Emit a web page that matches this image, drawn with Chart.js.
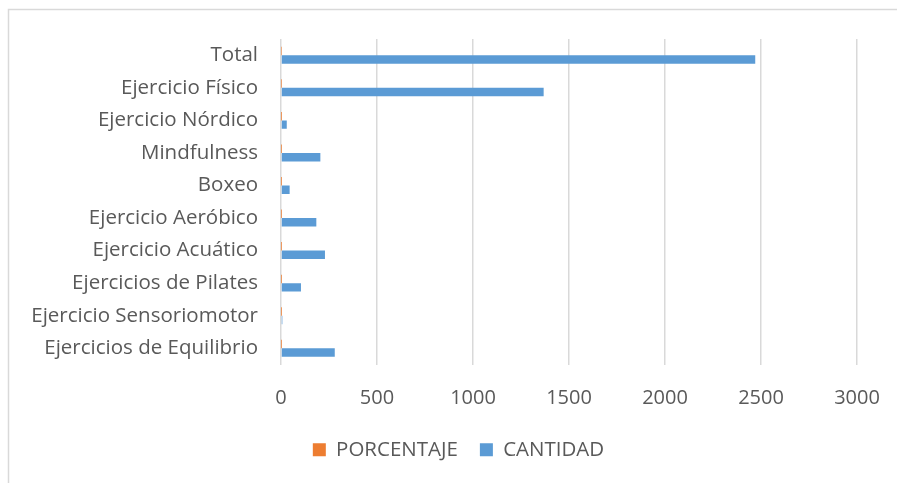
<!DOCTYPE html>
<html>
<head>
<meta charset="utf-8">
<script src="https://cdn.jsdelivr.net/npm/chart.js@4.4.0/dist/chart.umd.min.js"></script>
<style>
  html, body { margin: 0; padding: 0; background: #ffffff; }
  #wrap { width: 897px; height: 483px; position: relative; }
</style>
</head>
<body>
<div id="wrap"><canvas id="c" width="897" height="483"></canvas></div>
<script>
const categories = [
  "Total",
  "Ejercicio Físico",
  "Ejercicio Nórdico",
  "Mindfulness",
  "Boxeo",
  "Ejercicio Aeróbico",
  "Ejercicio Acuático",
  "Ejercicios de Pilates",
  "Ejercicio Sensoriomotor",
  "Ejercicios de Equilibrio"
];
const cantidad = [2470, 1368, 30, 205, 45, 184, 229, 104, 7, 280];
const porcentaje = [1, 0.55, 0.01, 0.08, 0.02, 0.07, 0.09, 0.04, 0.003, 0.11];
const xTicks = [0, 500, 1000, 1500, 2000, 2500, 3000];

const FONT = "'Open Sans', Lato, sans-serif";
const TEXT = "#595959";
const GRID = "#d9d9d9";

const borderPlugin = {
  id: 'frame',
  afterLayout(chart) {
    const lg = chart.legend;
    if (lg) { lg.left += 30; lg.right += 30; lg.top += 1; lg.bottom += 1; }
  },
  beforeDraw(chart) {
    const ctx = chart.ctx;
    ctx.save();
    ctx.fillStyle = '#ffffff';
    ctx.fillRect(0, 0, chart.width, chart.height);
    ctx.strokeStyle = GRID;
    ctx.lineWidth = 1.5;
    ctx.beginPath();
    ctx.moveTo(8.5, chart.height);
    ctx.lineTo(8.5, 9.5);
    ctx.lineTo(chart.width, 9.5);
    ctx.stroke();
    ctx.restore();
  }
};

new Chart(document.getElementById('c'), {
  type: 'bar',
  data: {
    labels: categories,
    datasets: [
      { label: 'PORCENTAJE', data: porcentaje, backgroundColor: '#ED7D31', borderWidth: 0 },
      { label: 'CANTIDAD', data: cantidad, backgroundColor: '#5B9BD5', borderWidth: 0 }
    ]
  },
  options: {
    indexAxis: 'y',
    responsive: false,
    animation: false,
    devicePixelRatio: 1,
    categoryPercentage: 0.52,
    barPercentage: 1,
    layout: { padding: { top: 39, right: 40, left: 0, bottom: 14 } },
    plugins: {
      legend: {
        position: 'bottom',
        labels: {
          font: { family: FONT, size: 20.5 },
          color: TEXT,
          boxWidth: 13,
          boxHeight: 13,
          padding: 22
        }
      },
      tooltip: { enabled: false }
    },
    scales: {
      x: {
        min: 0,
        max: 3000,
        afterBuildTicks(scale) { scale.ticks = xTicks.map(v => ({ value: v })); },
        afterFit(scale) { scale.height = 52; scale.paddingRight = 0; scale.paddingLeft = 0; },
        grid: { color: GRID, lineWidth: 1.5, drawTicks: false },
        border: { display: false },
        ticks: {
          font: { family: FONT, size: 20 },
          color: TEXT,
          padding: 22,
          callback: (v) => String(v)
        }
      },
      y: {
        afterFit(scale) { scale.width = 281; },
        grid: { display: false, drawTicks: false },
        border: { display: false },
        ticks: {
          font: { family: FONT, size: 20.5 },
          color: TEXT,
          padding: 23
        }
      }
    }
  },
  plugins: [borderPlugin]
});
</script>
</body>
</html>
